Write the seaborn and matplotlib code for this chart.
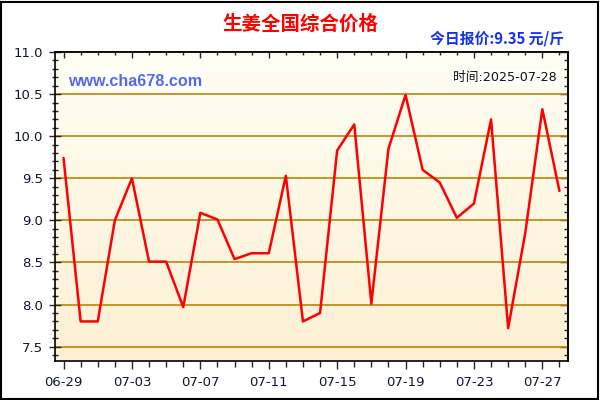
import numpy as np
import pandas as pd
import matplotlib
matplotlib.use("Agg")
import matplotlib.pyplot as plt
from matplotlib.patches import Rectangle
from matplotlib.ticker import MultipleLocator, FixedLocator
import seaborn as sns

# daily national ginger price (yuan / jin)
dates = ["06-29", "06-30", "07-01", "07-02", "07-03", "07-04", "07-05", "07-06",
         "07-07", "07-08", "07-09", "07-10", "07-11", "07-12", "07-13", "07-14",
         "07-15", "07-16", "07-17", "07-18", "07-19", "07-20", "07-21", "07-22",
         "07-23", "07-24", "07-25", "07-26", "07-27", "07-28"]
prices = [9.74, 7.80, 7.80, 9.00, 9.50, 8.51, 8.51, 7.97, 9.09, 9.01,
          8.54, 8.61, 8.61, 9.53, 7.80, 7.90, 9.83, 10.14, 8.01, 9.85,
          10.49, 9.60, 9.45, 9.03, 9.20, 10.20, 7.72, 8.85, 10.32, 9.35]
ytick_labels = ["7.5", "8.0", "8.5", "9.0", "9.5", "10.0", "10.5", "11.0"]

title = "生姜全国综合价格"
quote = "今日报价:9.35 元/斤"
site = "www.cha678.com"
stamp = "时间:2025-07-28"

sns.set_style("white")
plt.rcParams['font.family'] = ['DejaVu Sans', 'Noto Sans CJK SC']
cjk = ['Noto Sans CJK SC', 'DejaVu Sans']

df = pd.DataFrame({"day": np.arange(len(dates)), "price": prices})

W, H = 600, 400
fig = plt.figure(figsize=(6, 4), dpi=100)
fig.patch.set_facecolor("white")
ax = fig.add_axes([55 / W, 1 - 361 / H, (568 - 55) / W, (361 - 52) / H])

x0, x1 = -0.5, 29.5
y0, y1 = 7.33, 11.0

# soft yellow vertical gradient behind the plot
top = np.array([255, 254, 244]) / 255
bot = np.array([253, 240, 212]) / 255
t = np.linspace(0, 1, 256)[:, None]
grad = (top * (1 - t) + bot * t)[:, None, :]
ax.imshow(grad, extent=[x0, x1, y0, y1], aspect="auto", zorder=0,
          interpolation="bilinear")

sns.lineplot(data=df, x="day", y="price", color="#ff0000", linewidth=1.8,
             ax=ax, zorder=3)

ax.set_xlim(x0, x1)
ax.set_ylim(y0, y1)
ax.set_xlabel("")
ax.set_ylabel("")

ax.yaxis.set_major_locator(FixedLocator([float(v) for v in ytick_labels]))
ax.yaxis.set_minor_locator(MultipleLocator(0.1))
ax.set_yticklabels(ytick_labels)
ax.set_xticks(df["day"][::4])
ax.set_xticklabels(dates[::4])
ax.xaxis.set_minor_locator(FixedLocator(df["day"]))

ax.yaxis.grid(True, color="#b8860b", linewidth=1.2, zorder=1)
ax.xaxis.grid(False)

tick_color = "#0d1733"
ax.tick_params(axis="y", which="major", direction="inout", length=9, width=1,
               labelsize=9.5, labelcolor=tick_color, pad=4)
ax.tick_params(axis="y", which="minor", direction="inout", length=5, width=1)
ax.tick_params(axis="x", which="major", direction="out", length=6, width=1,
               labelsize=9.5, labelcolor=tick_color, pad=5)
ax.tick_params(axis="x", which="minor", direction="out", length=4, width=1)
ax.tick_params(left=True, bottom=True, which="both")

for s in ax.spines.values():
    s.set_color("black")
    s.set_linewidth(1.2)

# inward ticks on the right and top edges
sec_y = ax.secondary_yaxis("right")
sec_y.yaxis.set_major_locator(MultipleLocator(0.5))
sec_y.yaxis.set_minor_locator(MultipleLocator(0.1))
sec_y.tick_params(which="major", direction="in", length=6, width=1, labelright=False)
sec_y.tick_params(which="minor", direction="in", length=3, width=1)
sec_y.spines["right"].set_linewidth(1.2)

sec_x = ax.secondary_xaxis("top")
sec_x.set_xticks(df["day"][::4])
sec_x.xaxis.set_minor_locator(FixedLocator(df["day"]))
sec_x.tick_params(which="major", direction="in", length=4, width=1, labeltop=False)
sec_x.tick_params(which="minor", direction="in", length=2, width=1)
sec_x.spines["top"].set_linewidth(1.2)

fig.text(300 / W, 1 - 24 / H, title, ha="center", va="center", fontsize=14,
         fontweight="bold", color="#ff0000", family=cjk)
fig.text(564 / W, 1 - 38.5 / H, quote, ha="right", va="center", fontsize=10.7,
         fontweight="bold", color="#1530ee", family=cjk)
fig.text(68 / W, 1 - 81 / H, site, ha="left", va="center", fontsize=11.6,
         fontweight="bold", color="#5468ee", family=["Liberation Sans"],
         bbox=dict(facecolor="white", edgecolor="none", pad=1))
fig.text(557 / W, 1 - 78 / H, stamp, ha="right", va="center", fontsize=9.2,
         color="#111111", family=['DejaVu Sans', 'Noto Sans CJK SC'],
         bbox=dict(facecolor="white", edgecolor="none", pad=1))

# thin black frame around the whole picture
fig.patches.append(Rectangle((1 / W, 1 / H), (W - 3) / W, (H - 3) / H,
                             transform=fig.transFigure, fill=False,
                             edgecolor="black", linewidth=1.5))

fig.savefig("out.png", dpi=100)
